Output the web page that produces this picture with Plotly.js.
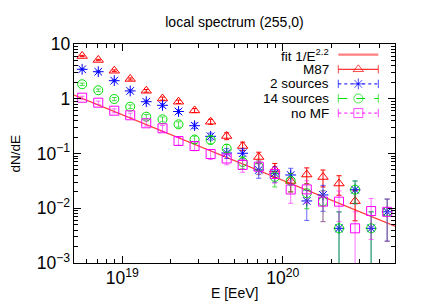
<!DOCTYPE html>
<html><head><meta charset="utf-8">
<script src="https://cdn.plot.ly/plotly-3.0.1.min.js"></script>
<style>html,body{margin:0;padding:0;background:#fff}#chart{width:439px;height:307px}</style>
</head><body><div id="chart"></div>
<script>
// energy bin centres [eV]
const energy = [5.62e18, 7.08e18, 8.91e18, 1.12e19, 1.41e19, 1.78e19, 2.24e19, 2.82e19, 3.55e19, 4.47e19,
                5.62e19, 7.08e19, 8.91e19, 1.12e20, 1.41e20, 1.78e20, 2.24e20, 2.82e20, 3.55e20, 4.47e20];

const m87    = [6.04, 5.11, 3.25, 2.30, 1.40, 1.01, 0.883, 0.611, 0.381, 0.209, 0.137, 0.0863, 0.0510, 0.0315, 0.0413, 0.0372, 0.0283, 0.0135, null, null];
const m87Err = [0.161, 0.148, 0.118, 0.0995, 0.0776, 0.0659, 0.0616, 0.0513, 0.0405, 0.0300, 0.0243, 0.0193, 0.0148, 0.0116, 0.0133, 0.0127, 0.0110, 0.0076, null, null];

const twoSrc    = [3.45, 3.12, 2.14, 1.39, 0.883, 0.759, 0.585, 0.322, 0.206, 0.102, 0.101, 0.050, 0.0435, 0.0405, 0.0136, 0.0175, 0.0043, 0.0218, 0.0043, 0.0086];
const twoSrcErr = [0.122, 0.116, 0.096, 0.0773, 0.0616, 0.0571, 0.0502, 0.0372, 0.0298, 0.0209, 0.0208, 0.0147, 0.0137, 0.0132, 0.0076, 0.0087, 0.0043, 0.0097, 0.0043, 0.0061];

const fourteenSrc    = [1.84, 1.43, 0.99, 0.716, 0.470, 0.421, 0.341, 0.180, 0.177, 0.123, 0.070, 0.0574, 0.0372, 0.0315, 0.0188, 0.0133, 0.0043, 0.0218, 0.0043, 0.0086];
const fourteenSrcErr = [0.0889, 0.0784, 0.0652, 0.0555, 0.0450, 0.0425, 0.0383, 0.0278, 0.0276, 0.0230, 0.0174, 0.0157, 0.0127, 0.0116, 0.0090, 0.0076, 0.0043, 0.0097, 0.0043, 0.0061];

const noMF    = [1.045, 0.847, 0.605, 0.499, 0.356, 0.289, 0.169, 0.137, 0.098, 0.081, 0.0617, 0.0574, 0.0423, 0.0220, 0.0221, 0.0132, 0.0132, 0.0043, 0.0089, 0.0086];
const noMFErr = [0.0670, 0.0603, 0.0510, 0.0463, 0.0391, 0.0353, 0.0270, 0.0243, 0.0205, 0.0187, 0.0163, 0.0157, 0.0135, 0.0097, 0.0097, 0.0075, 0.0075, 0.0043, 0.0062, 0.0061];

// fit 1/E^2.2 (endpoints of the drawn line)
const fitE = [5e18, 5e20];
const fitY = [1.17, 0.0047];

const seriesNames = ['fit 1/E<sup>2.2</sup>', 'M87', '2 sources', '14 sources', 'no MF'];

const FONT = 'Liberation Sans, Arial, Helvetica, sans-serif';
const RED = '#ff0000', BLUE = '#0000ff', GREEN = '#00e000', MAG = '#ff00ff';

function series(y, err, name, color, symbol, errColor) {
  return {
    x: energy, y: y, name: name, type: 'scatter', mode: 'markers',
    marker: {symbol: symbol, size: 9, color: color, line: {width: 1, color: color}},
    error_y: {type: 'data', array: err, visible: true, color: errColor, thickness: 1, width: 2.5},
    cliponaxis: true, showlegend: false, hoverinfo: 'x+y'
  };
}

const traces = [
  {x: fitE, y: fitY, type: 'scatter', mode: 'lines', line: {color: '#ff3b3b', width: 1.2}, showlegend: false, name: seriesNames[0]},
  series(m87, m87Err, seriesNames[1], RED, 'triangle-up-open', RED),
  series(twoSrc, twoSrcErr, seriesNames[2], BLUE, 'asterisk-open', 'rgba(0,0,255,0.6)'),
  series(fourteenSrc, fourteenSrcErr, seriesNames[3], GREEN, 'circle-open', 'rgba(0,210,0,0.7)'),
  series(noMF, noMFErr, seriesNames[4], MAG, 'square-open', 'rgba(255,0,255,0.55)')
];

// custom gnuplot-style key (text left, sample right) on an auxiliary 0..1 axis pair
const keyX0 = 0.8234, keyXm = 0.8857, keyX1 = 0.948, keyText = 0.7975;
const keyRows = [0.9511, 0.8845, 0.8178, 0.7511, 0.6845];
const keyStyle = [
  {color: '#ff8080', dash: 'solid', width: 2.2, symbol: null},
  {color: RED, dash: 'solid', width: 1, symbol: 'triangle-up-open'},
  {color: BLUE, dash: 'dot', width: 1, symbol: 'asterisk-open'},
  {color: GREEN, dash: 'dash', width: 1, symbol: 'circle-open'},
  {color: MAG, dash: 'dot', width: 1, symbol: 'square-open'}
];
keyStyle.forEach((s, i) => {
  const r = keyRows[i];
  if (!s.symbol) {
    traces.push({x: [keyX0, keyX1], y: [r, r], xaxis: 'x2', yaxis: 'y2', type: 'scatter', mode: 'lines',
      line: {color: s.color, width: s.width}, showlegend: false, hoverinfo: 'skip'});
  } else {
    traces.push({x: [keyX0, keyXm, keyX1], y: [r, r, r], xaxis: 'x2', yaxis: 'y2', type: 'scatter', mode: 'lines+markers',
      line: {color: s.color, width: s.width, dash: s.dash},
      marker: {symbol: ['line-ns-open', s.symbol, 'line-ns-open'], size: [6, 9, 6], color: s.color, line: {width: 1, color: s.color}},
      showlegend: false, hoverinfo: 'skip', cliponaxis: false});
  }
});

const annotations = seriesNames.map((t, i) => ({
  xref: 'paper', yref: 'paper', x: keyText, y: keyRows[i], xanchor: 'right', yanchor: 'middle',
  text: t, showarrow: false, borderpad: 0, font: {family: FONT, size: 13.5, color: '#000'}
}));
annotations.push({xref: 'paper', yref: 'paper', x: -0.1807, y: 0.5, xanchor: 'center', yanchor: 'middle',
  text: 'dN/dE', textangle: -90, showarrow: false, font: {family: FONT, size: 13.5, color: '#000'}});
annotations.push({xref: 'paper', yref: 'paper', x: 0.5, y: -0.137, xanchor: 'center', yanchor: 'middle',
  text: 'E [EeV]', showarrow: false, font: {family: FONT, size: 14, color: '#000'}});

const axisCommon = {
  type: 'log', showgrid: false, zeroline: false, showline: true, linecolor: '#000', linewidth: 1,
  mirror: 'allticks', ticks: 'inside', ticklen: 7, tickwidth: 1, tickcolor: '#000',
  tickmode: 'linear', tick0: 0, dtick: 1, exponentformat: 'power',
  tickfont: {family: FONT, size: 14, color: '#000'},
  minor: {ticks: 'inside', ticklen: 4, tickwidth: 1, tickcolor: '#000', dtick: 'D1', showgrid: false}
};

const layout = {
  width: 439, height: 307,
  margin: {l: 74, r: 44, t: 44, b: 44},
  paper_bgcolor: '#fff', plot_bgcolor: '#fff',
  font: {family: FONT, size: 14, color: '#000'},
  title: {text: 'local spectrum (255,0)', xref: 'paper', x: 0.5, xanchor: 'center', yref: 'container', y: 0.928, yanchor: 'middle',
          font: {family: FONT, size: 14, color: '#000'}},
  xaxis: Object.assign({}, axisCommon, {range: [Math.log10(5e18), Math.log10(5e20)]}),
  yaxis: Object.assign({}, axisCommon, {range: [-3, 1]}),
  xaxis2: {overlaying: 'x', range: [0, 1], visible: false, fixedrange: true},
  yaxis2: {overlaying: 'y', range: [0, 1], visible: false, fixedrange: true},
  showlegend: false,
  annotations: annotations
};

Plotly.newPlot('chart', traces, layout, {staticPlot: true, displayModeBar: false});
</script>
</body></html>
